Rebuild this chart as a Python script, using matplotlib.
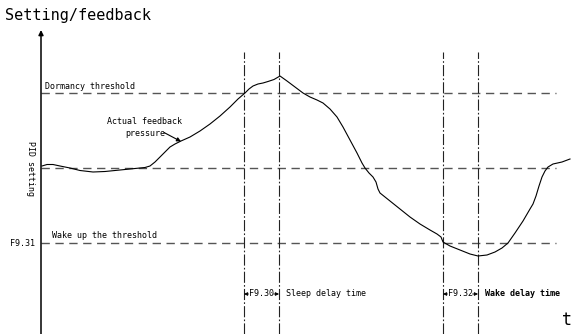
import matplotlib
matplotlib.use("Agg")
import matplotlib.pyplot as plt

# Feedback pressure over time (arbitrary time units, setting units)
t_feedback = [0.1, 0.6, 1.2, 1.9, 2.9, 3.9, 5.2, 6.4, 7.9, 9.4, 10.4, 10.9,
              11.4, 11.9, 12.4, 12.9, 13.4, 14.0, 14.9, 15.9, 16.9, 17.9, 18.9,
              19.7, 20.4, 20.8, 21.2, 21.7, 22.2, 22.7, 23.3, 23.9, 24.6, 25.4,
              26.2, 26.9, 27.6, 28.2, 28.9, 29.6, 30.2, 30.9, 31.6, 32.1, 32.4,
              32.8, 33.2, 33.5, 33.7, 33.9, 34.9, 35.9, 36.9, 37.9, 38.9, 39.6,
              40.0, 40.2, 40.9, 41.9, 42.9, 43.7, 44.6, 45.4, 46.1, 46.7, 47.4,
              48.2, 48.9, 49.2, 49.5, 49.8, 50.1, 50.4, 50.7, 51.2, 52.1, 52.9]
p_feedback = [5.08, 5.14, 5.14, 5.08, 5.00, 4.90, 4.84, 4.86, 4.92, 4.98, 5.02, 5.08,
              5.24, 5.44, 5.64, 5.84, 5.96, 6.08, 6.24, 6.48, 6.76, 7.08, 7.44,
              7.76, 8.00, 8.16, 8.28, 8.36, 8.40, 8.46, 8.54, 8.68, 8.48, 8.24,
              8.00, 7.84, 7.72, 7.60, 7.36, 7.04, 6.64, 6.12, 5.60, 5.20, 5.00,
              4.80, 4.64, 4.44, 4.16, 4.00, 3.68, 3.36, 3.04, 2.76, 2.52, 2.36,
              2.24, 2.04, 1.88, 1.72, 1.56, 1.48, 1.52, 1.64, 1.80, 2.00, 2.40,
              2.88, 3.36, 3.56, 3.88, 4.28, 4.64, 4.88, 5.04, 5.16, 5.24, 5.36]

# Threshold levels
dormancy_level = 8.0
pid_setting = 5.0
wake_level = 2.0

# Delay intervals (start, end)
sleep_delay = (20.3, 23.8)
wake_delay = (40.2, 43.7)

t_min, t_max = -4.1, 53.1
v_min, v_max = -1.64, 11.72
t_line_end = 51.5
v_axis_top = 10.52
v_vline_top = 9.64

mono = "DejaVu Sans Mono"
fs = 6

fig = plt.figure(figsize=(5.72, 3.34), dpi=100)
ax = fig.add_axes([0, 0, 1, 1])
ax.set_xlim(t_min, t_max)
ax.set_ylim(v_min, v_max)
ax.axis("off")

# Vertical axis with arrow head
ax.annotate("", xy=(0, v_axis_top), xytext=(0, v_min),
            arrowprops=dict(arrowstyle="-|>", color="black", lw=1.1,
                            mutation_scale=7, shrinkA=0, shrinkB=0))

# Threshold lines
ax.hlines([dormancy_level, pid_setting, wake_level], 0, t_line_end,
          colors="#555555", linestyles=(0, (6, 4)), lw=1.0)

# Delay markers
ax.vlines([*sleep_delay, *wake_delay], v_min, v_vline_top,
          colors="#222222", linestyles=(0, (10, 2, 1.5, 2)), lw=0.8)

# Feedback curve
ax.plot(t_feedback, p_feedback, color="black", lw=0.8,
        solid_joinstyle="round", antialiased=True)

# Labels
ax.text(-3.6, 11.12, "Setting/feedback", fontsize=11, family=mono,
        ha="left", va="center")
ax.text(0.4, dormancy_level + 0.28, "Dormancy threshold", fontsize=fs,
        family=mono, ha="left", va="center")
ax.text(10.4, 6.62, "Actual feedback\npressure", fontsize=fs, family=mono,
        ha="center", va="center", linespacing=1.3)
ax.annotate("", xy=(14.0, 6.06), xytext=(12.3, 6.42),
            arrowprops=dict(arrowstyle="-|>", color="black", lw=0.8,
                            mutation_scale=6, shrinkA=0, shrinkB=0))
ax.text(-1.0, pid_setting, "PID setting", fontsize=fs, family=mono,
        rotation=270, ha="center", va="center")
ax.text(1.1, wake_level + 0.32, "Wake up the threshold", fontsize=fs,
        family=mono, ha="left", va="center")
ax.text(-0.6, wake_level, "F9.31", fontsize=fs, family=mono,
        ha="right", va="center")

v_delay = -0.04
for (a, b), code, desc, weight in [(sleep_delay, "F9.30", "Sleep delay time", "normal"),
                                   (wake_delay, "F9.32", "Wake delay time", "bold")]:
    mid = (a + b) / 2
    ax.text(mid, v_delay, code, fontsize=fs, family=mono, ha="center", va="center")
    ax.annotate("", xy=(a, v_delay), xytext=(a + 0.45, v_delay),
                arrowprops=dict(arrowstyle="-|>", color="black", lw=0.6,
                                mutation_scale=5, shrinkA=0, shrinkB=0))
    ax.annotate("", xy=(b, v_delay), xytext=(b - 0.55, v_delay),
                arrowprops=dict(arrowstyle="-|>", color="black", lw=0.6,
                                mutation_scale=5, shrinkA=0, shrinkB=0))
    ax.text(b + 0.7, v_delay, desc, fontsize=fs, family=mono,
            fontweight=weight, ha="left", va="center")

ax.text(52.6, -1.08, "t", fontsize=12, family=mono, ha="center", va="center")

fig.savefig("out.png", dpi=100)
